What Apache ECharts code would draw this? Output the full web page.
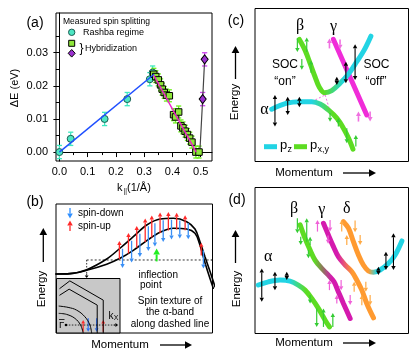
<!DOCTYPE html>
<html>
<head>
<meta charset="utf-8">
<script src="https://cdn.jsdelivr.net/npm/echarts@6/dist/echarts.min.js"></script>
<style>
    html, body { margin: 0; padding: 0; background: #fff; }
    #fig { width: 416px; height: 363px; }
</style>
</head>
<body>
<div id="fig"></div>
<script>
    // ---- (a) measured spin splitting, k in 1/Å, dE in eV ----
    var rashbaK   = [0.0, 0.04, 0.16, 0.24, 0.32, 0.33];
    var rashbaE   = [0.000, 0.004, 0.010, 0.016, 0.022, 0.024];
    var rashbaErr = [0.002, 0.002, 0.002, 0.002, 0.002, 0.002];

    var hybK   = [0.334, 0.341, 0.350, 0.358, 0.364, 0.371, 0.379, 0.389, 0.404, 0.411, 0.422, 0.430, 0.437, 0.445, 0.453, 0.461, 0.469, 0.483, 0.494];
    var hybE   = [0.0235, 0.0228, 0.0218, 0.0203, 0.0190, 0.0180, 0.0172, 0.0170, 0.0113, 0.0106, 0.0121, 0.0079, 0.0073, 0.0063, 0.0053, 0.0042, 0.0030, 0.0000, 0.0000];
    var hybErr = [0.0018, 0.0018, 0.0018, 0.0018, 0.0018, 0.0018, 0.0018, 0.0018, 0.0018, 0.0018, 0.0018, 0.0018, 0.0018, 0.0018, 0.0018, 0.0018, 0.0018, 0.0018, 0.0018];

    var diaK   = [0.507, 0.514];
    var diaE   = [0.016, 0.028];
    var diaErr = [0.002, 0.002];

    var fitRashba = [[0.0, 0.0], [0.335, 0.0235]];
    var fitHyb    = [[0.334, 0.0232], [0.484, 0.0]];
    var jumpLine  = [[0.497, 0.0], [0.507, 0.016], [0.514, 0.028]];

    var xTicks = [0, 0.1, 0.2, 0.3, 0.4, 0.5];
    var xMinor = [0.05, 0.15, 0.25, 0.35, 0.45];
    var yTicks = [0, 0.01, 0.02, 0.03];
    var yMinor = [0.005, 0.015, 0.025, 0.035];

    // ---- (b) alpha band sketch, momentum / energy in 0..100 ----
    var bandUpper = [[0,45.7],[8.9,46],[19.6,49.1],[32.4,57.4],[40.9,65.7],[49.4,74.7],[58,83.7],[66.5,88.4],[75,88.9],[83.5,86.3],[88.8,80.6],[92,70.8],[95.2,59.1],[98.8,46.3],[101.6,35.9]];
    var bandLower = [[0,45.7],[8.9,46],[19.6,48.6],[32.4,53.3],[40.9,57.9],[49.4,64.1],[58,71.6],[66.5,78.1],[75,81.2],[83.5,80.6],[88.8,77.3],[91.6,69.5],[94.1,59.1],[97.3,46.3],[100.5,34.7]];
    var cutLine   = [[19.6,56.6],[100,56.6]];
    var cutDrop   = [[19.6,56.6],[19.6,45.5]];
    var bSpinUp   = [[40.5,57.3,71.3],[46.3,61.6,77.5],[51.6,66,83],[57,70.6,88.7],[61.2,74,91],[66.5,77.5,93.5],[71.8,79.5,93.8],[77.1,80.2,93.3],[82.5,79.6,91.3],[92.8,60,70]];
    var bSpinDown = [[42.5,65.3,50.3],[48.3,71.5,54.6],[53.6,77,59],[59,82.7,63.6],[63.2,85,67],[68.5,87.5,70.5],[73.8,87.8,72.5],[79.1,87.3,73.2],[84.5,85.3,72.6],[94.2,64,50]];
    var bDropTip  = [[19.6,46,42.6]];
    var bInflect  = [[64.3,55.5,65.5]];

    // inset: constant energy contours around Gamma
    var insetOuter    = [[5.2,81.7],[21,95.6],[73.6,60.3],[73.6,0]];
    var insetInner    = [[5.2,69.5],[19.9,80.4],[64.1,51.2],[64.1,0]];
    var insetArcOuter = [[4.1,49.4],[18.3,47],[31.6,42],[44.7,29.8],[52.6,14.6],[55.3,0]];
    var insetArcInner = [[4.1,36],[15.8,34.2],[28.9,26.9],[37.9,14.6],[42,0]];
    var insetKx       = [[14.7,14.6],[92,14.6]];
    var insetKxTip    = [[90,97,14.6]];
    var insetUp       = [[42,2.4,23.8],[73.6,2.4,23.8]];
    var insetDown     = [[49.9,26.9,2.4],[63.2,26.9,2.4]];

    // ---- (c) SOC on / off ----
    var cAlpha = [[10.9,34.2],[20.7,38.1],[29.4,39.1],[37,39.1],[42.4,37.6],[47.8,33.7],[53.3,28.3],[57.6,21.8],[60.9,15.3],[63.8,8.1]];
    var cBeta  = [[28.9,79.8],[32.6,72.8],[35.9,64.1],[39.1,55.4],[41.9,48.5],[45.2,45],[50,46.3],[55.4,51.1],[60.9,57.2],[66.3,65.2],[71.1,72.8],[75.5,81.9]];
    var cGamma = [[51.1,79.8],[72.8,30.4]];
    var cDashA = [[37,39.1],[45.7,43.5]];
    var cDashB = [[45.7,43.5],[48.3,34.8]];
    var cBlack = [[13,22.8,43.5],[21.3,30.4,42.4],[28.9,35.5,42.4],[53.3,50,55.4],[59.2,51.1,65.2],[65.2,53.3,76.7]];
    var cGreen = [[27.6,80.5,71.5],[33.7,71.5,81],[30.5,67,60],[36.5,58,66],[48.9,31.7,25.9],[54.3,22.8,28.5],[59.8,21.8,12],[65.7,9.8,17.4]];
    var cPink  = [[48.5,73.9,80.4],[55.4,79.8,73.3],[67.4,26.1,32.6],[75,32.6,26.1]];

    // ---- (d) four bands ----
    var dAlpha = [[2.2,33.2],[8.7,35.4],[16.3,36.6],[22.8,35.9],[28.2,33.2],[32.6,29.7],[37,24],[41.3,17.2],[45.7,9.1],[48.5,4.5]];
    var dBeta  = [[29.4,74.4],[32.6,65.2],[35.9,57.2],[39.1,50.3],[43.5,44.6],[47.8,40],[51.5,35.4],[54.3,28.6],[57.6,20.6],[62,10.3]];
    var dGamma = [[44.6,75.5],[47.8,67.5],[51.1,59.5],[54.3,52.6],[58.7,46.9],[63.1,42.3],[66.3,36.6],[69.6,29.7],[72.8,20.6],[77.2,10.7]];
    var dDelta = [[57.6,76.6],[60.9,72.1],[64.1,62.9],[67.4,53.8],[70.6,46.9],[73.9,42.8],[77.2,41.9],[81.5,43.5],[87,48.1],[91.3,53.8],[95.7,63.4]];
    var dBlack = [[4.4,21.7,44.6],[13,29.7,42.3],[20.7,36.6,42.3],[80.4,40,45.7],[85.3,43.5,56],[90.2,43.5,68.7]];
    var dGreen = [[27.6,79,68.7],[33.7,62.9,79],[29.8,66.3,60.6],[35.9,60.6,66.3],[34.8,57.2,51.5],[35.9,26.3,20.6],[40.2,17.2,4.5],[44.6,4.5,17.2],[50.7,4.5,14]];
    var dPink  = [[40.7,69.8,77.8],[48.9,77.8,69.8],[47.6,67.1,61.4],[48.5,29.7,36.6],[56.1,36.6,29.7],[53.3,20.6,26.3],[62,26.3,19.5]];
    var dOrange = [[56.5,69.8,77.8],[65.2,77.4,69.4],[59.8,60.6,67.5],[68.5,67.5,60.6],[64.6,28.6,35.4],[72.2,35.4,28.6],[69.6,19.4,26.3],[75,26.3,19.4]];

    var SANS = '"Liberation Sans", Arial, sans-serif';
    var SERIF = '"Liberation Serif", "DejaVu Serif", serif';
    var cyan = '#22d4e4', green = '#5ddc22', magenta = '#f02cd8', deepMag = '#d41aae', orange = '#ff9a30';

    function zip(a, b) {
        return a.map(function (v, i) { return [v, b[i]]; });
    }
    function zip3(a, b, c) {
        return a.map(function (v, i) { return [v, b[i], c[i]]; });
    }

    // error bar with caps
    function errSeries(data, color) {
        return {
            type: 'custom', xAxisIndex: 0, yAxisIndex: 0, z: 2, silent: true,
            data: data,
            renderItem: function (params, api) {
                var x = api.value(0), y = api.value(1), e = api.value(2);
                var t = api.coord([x, y + e]), b = api.coord([x, y - e]), c = 2.6;
                var st = { stroke: color, lineWidth: 1.3 };
                return {
                    type: 'group', children: [
                        { type: 'line', shape: { x1: t[0], y1: t[1], x2: b[0], y2: b[1] }, style: st },
                        { type: 'line', shape: { x1: t[0] - c, y1: t[1], x2: t[0] + c, y2: t[1] }, style: st },
                        { type: 'line', shape: { x1: b[0] - c, y1: b[1], x2: b[0] + c, y2: b[1] }, style: st }
                    ]
                };
            }
        };
    }

    // arrow shape between two pixel points
    function arrowShape(a, b, color, lw, head, both) {
        var dx = b[0] - a[0], dy = b[1] - a[1], L = Math.sqrt(dx * dx + dy * dy) || 1;
        var ux = dx / L, uy = dy / L;
        var hl = Math.min(head, L * 0.6), hw = head * 0.55;
        var bx = b[0] - ux * hl, by = b[1] - uy * hl;
        var ax = both ? a[0] + ux * hl : a[0], ay = both ? a[1] + uy * hl : a[1];
        var kids = [
            { type: 'line', shape: { x1: ax, y1: ay, x2: bx, y2: by }, style: { stroke: color, lineWidth: lw } },
            { type: 'polygon', shape: { points: [[b[0], b[1]], [bx - uy * hw, by + ux * hw], [bx + uy * hw, by - ux * hw]] }, style: { fill: color } }
        ];
        if (both) {
            kids.push({ type: 'polygon', shape: { points: [[a[0], a[1]], [ax - uy * hw, ay + ux * hw], [ax + uy * hw, ay - ux * hw]] }, style: { fill: color } });
        }
        return { type: 'group', children: kids };
    }

    // vertical spin arrows [x, from, to]; both = heads at both ends
    function arrowSeries(data, axis, color, lw, both, head) {
        return {
            type: 'custom', xAxisIndex: axis, yAxisIndex: axis, z: 5, silent: true, clip: false,
            data: data,
            renderItem: function (params, api) {
                var x = api.value(0);
                return arrowShape(api.coord([x, api.value(1)]), api.coord([x, api.value(2)]), color, lw, head || 4, both);
            }
        };
    }

    // horizontal arrows [from, to, y]
    function hArrowSeries(data, axis, color, lw, head) {
        return {
            type: 'custom', xAxisIndex: axis, yAxisIndex: axis, z: 6, silent: true, clip: false,
            data: data,
            encode: { x: [0, 1], y: 2 },
            renderItem: function (params, api) {
                var y = api.value(2);
                return arrowShape(api.coord([api.value(0), y]), api.coord([api.value(1), y]), color, lw, head, false);
            }
        };
    }

    function band(data, axis, color, width, extra) {
        var s = {
            type: 'line', xAxisIndex: axis, yAxisIndex: axis, data: data, symbol: 'none', silent: true,
            smooth: 0.35, z: 3, lineStyle: { color: color, width: width, cap: 'round' }
        };
        if (extra) { for (var k in extra) s[k] = extra[k]; }
        return s;
    }

    function grad(stops) {
        return new echarts.graphic.LinearGradient(0, 0, 1, 0, stops.map(function (s) { return { offset: s[0], color: s[1] }; }));
    }

    function hiddenAxis(grid) {
        return { type: 'value', gridIndex: grid, min: 0, max: 100, show: false };
    }

    // pixel arrows / texts for the decorations
    function gArrow(x1, y1, x2, y2, color, lw, head) {
        var g = arrowShape([x1, y1], [x2, y2], color, lw, head, false);
        g.z = 10;
        return g;
    }
    function gText(t, x, y, size, opt) {
        opt = opt || {};
        return {
            type: 'text', x: x, y: y, rotation: opt.rot || 0, z: 10,
            style: {
                text: t, font: (opt.style || '') + ' ' + size + 'px ' + (opt.family || SANS), fill: opt.color || '#000',
                align: opt.align || 'center', textAlign: opt.align || 'center',
                verticalAlign: 'middle', textVerticalAlign: 'middle'
            }
        };
    }

    var graphics = [];
    // panel letters
    graphics.push(gText('(a)', 35, 23, 14), gText('(b)', 35, 202, 14), gText('(c)', 236, 21, 14), gText('(d)', 237, 200, 14));

    // (a) axis names + legend
    graphics.push(gText('\u0394E (eV)', 15, 88, 11, { rot: Math.PI / 2 }));
    graphics.push(gText('k', 117, 188, 11, { align: 'left' }), gText('||', 123.5, 191, 6.5, { align: 'left' }), gText('(1/\u00C5)', 127, 188, 11, { align: 'left' }));
    graphics.push(gText('Measured spin splitting', 63, 22, 8.5, { align: 'left' }));
    graphics.push({ type: 'circle', shape: { cx: 71.7, cy: 32.3, r: 3.2 }, style: { fill: '#4de6c3', stroke: '#1d5c52', lineWidth: 1 }, z: 10 });
    graphics.push(gText('Rashba regime', 83, 32.3, 9, { align: 'left' }));
    graphics.push({ type: 'rect', shape: { x: 68.7, y: 40.3, width: 6, height: 6 }, style: { fill: '#8ee63a', stroke: '#000', lineWidth: 1 }, z: 10 });
    graphics.push({ type: 'polygon', shape: { points: [[71.7, 49.5], [75.2, 53.3], [71.7, 57.1], [68.2, 53.3]] }, style: { fill: '#9b30d0', stroke: '#000', lineWidth: 1 }, z: 10 });
    graphics.push(gText('}', 79.5, 48.5, 12, { align: 'left' }), gText('Hybridization', 85, 48.3, 9, { align: 'left' }));

    // (b) decorations
    graphics.push(gText('Energy', 42.3, 289, 11.5, { rot: Math.PI / 2 }));
    graphics.push(gArrow(43.3, 262, 43.3, 228, '#000', 1.3, 7));
    graphics.push(gText('Momentum', 120, 345, 11.5));
    graphics.push(gArrow(160, 345, 192, 345, '#000', 1.3, 7));
    graphics.push(gArrow(70, 208, 70, 218.5, '#2f8fff', 1.3, 5));
    graphics.push(gArrow(70, 231, 70, 220.5, '#ff2a2a', 1.3, 5));
    graphics.push(gText('spin-down', 78, 213, 10, { align: 'left' }), gText('spin-up', 78, 226.5, 10, { align: 'left' }));
    graphics.push(gText('inflection', 138.5, 275, 10, { align: 'left' }), gText('point', 140, 285.5, 10, { align: 'left' }));
    graphics.push(gText('Spin texture of', 170, 301, 10), gText('the \u03B1-band', 170, 312.5, 10), gText('along dashed line', 170, 324, 10));
    graphics.push(gText('\u0393', 61.7, 325.5, 9.5), { type: 'line', shape: { x1: 59, y1: 319.5, x2: 64.5, y2: 319.5 }, style: { stroke: '#000', lineWidth: 0.8 }, z: 10 });
    graphics.push({ type: 'circle', shape: { cx: 66, cy: 325, r: 1.3 }, style: { fill: '#000' }, z: 10 });
    graphics.push(gText('k', 108.5, 316.5, 10, { align: 'left' }), gText('X', 113.8, 318.5, 7, { align: 'left' }));

    // (c) decorations
    graphics.push(gText('Energy', 235, 102, 11.5, { rot: Math.PI / 2 }));
    graphics.push(gArrow(235.5, 79, 235.5, 46, '#000', 1.3, 7));
    graphics.push(gText('Momentum', 304, 173, 11.5));
    graphics.push(gArrow(343, 173, 376, 173, '#000', 1.3, 7));
    graphics.push(gText('\u03B2', 300, 26, 16, { family: SERIF }), gText('\u03B3', 333.5, 27, 16, { family: SERIF }), gText('\u03B1', 264.5, 110, 16, { family: SERIF }));
    graphics.push(gText('SOC', 285, 65, 12), gText('\u201Con\u201D', 285, 81.5, 12), gText('SOC', 376.5, 65, 12), gText('\u201Coff\u201D', 376, 81.5, 12));
    graphics.push({ type: 'line', shape: { x1: 264, y1: 146.7, x2: 277, y2: 146.7 }, style: { stroke: cyan, lineWidth: 5 }, z: 10 });
    graphics.push(gText('p', 280, 145.5, 13, { align: 'left' }), gText('z', 287.5, 150, 9, { align: 'left' }));
    graphics.push({ type: 'line', shape: { x1: 294, y1: 146.7, x2: 307, y2: 146.7 }, style: { stroke: green, lineWidth: 5 }, z: 10 });
    graphics.push(gText('p', 310, 145.5, 13, { align: 'left' }), gText('x,y', 317.5, 150, 9, { align: 'left' }));

    // (d) decorations
    graphics.push(gText('Energy', 236.5, 289, 11.5, { rot: Math.PI / 2 }));
    graphics.push(gArrow(235.5, 263, 235.5, 230, '#000', 1.3, 7));
    graphics.push(gText('Momentum', 304, 343, 11.5));
    graphics.push(gArrow(343, 343, 376, 343, '#000', 1.3, 7));
    graphics.push(gText('\u03B2', 294, 208.5, 16, { family: SERIF }), gText('\u03B3', 321.7, 209.5, 16, { family: SERIF }), gText('\u03B4', 346.7, 208.5, 16, { family: SERIF }), gText('\u03B1', 268.3, 256.5, 16, { family: SERIF }));

    var frame = { show: true, borderColor: '#000', borderWidth: 1, backgroundColor: 'transparent' };
    function gridOf(l, t, w, h, extra) {
        var g = { left: l, top: t, width: w, height: h };
        for (var k in frame) g[k] = frame[k];
        if (extra) { for (var j in extra) g[j] = extra[j]; }
        return g;
    }

    var option = {
        animation: false,
        textStyle: { fontFamily: SANS },
        grid: [
            gridOf(56, 13, 156, 148),
            gridOf(56, 204, 156.5, 129),
            gridOf(56.5, 278.5, 63.5, 54.5, { backgroundColor: '#c8c8c8', z: 1 }),
            gridOf(255, 8.5, 153.5, 153),
            gridOf(255, 187.5, 153.5, 146)
        ],
        xAxis: [
            {
                type: 'value', gridIndex: 0, min: -0.012, max: 0.54, position: 'bottom',
                axisLine: { show: true, lineStyle: { color: '#000', width: 1 } },
                axisTick: { show: true, customValues: xTicks, length: 5, lineStyle: { color: '#000' } },
                axisLabel: { customValues: xTicks, color: '#000', fontSize: 11, margin: 5, formatter: function (v) { return v.toFixed(1); } },
                splitLine: { show: false }
            },
            {
                type: 'value', gridIndex: 0, min: -0.012, max: 0.54, position: 'bottom',
                axisLine: { show: false },
                axisTick: { show: true, customValues: xMinor, length: 3, lineStyle: { color: '#000' } },
                axisLabel: { show: false }, splitLine: { show: false }
            },
            hiddenAxis(1), hiddenAxis(2), hiddenAxis(3), hiddenAxis(4)
        ],
        yAxis: [
            {
                type: 'value', gridIndex: 0, min: -0.0027, max: 0.042, position: 'left',
                axisLine: { show: true, lineStyle: { color: '#000', width: 1 } },
                axisTick: { show: true, customValues: yTicks, length: 6, lineStyle: { color: '#000' } },
                axisLabel: { customValues: yTicks, color: '#000', fontSize: 11, margin: 8, formatter: function (v) { return v.toFixed(2); } },
                splitLine: { show: false }
            },
            {
                type: 'value', gridIndex: 0, min: -0.0027, max: 0.042, position: 'left',
                axisLine: { show: false },
                axisTick: { show: true, customValues: yMinor, length: 3.5, lineStyle: { color: '#000' } },
                axisLabel: { show: false }, splitLine: { show: false }
            },
            hiddenAxis(1), hiddenAxis(2), hiddenAxis(3), hiddenAxis(4)
        ],
        graphic: { elements: graphics },
        series: [
            // (a)
            errSeries(zip3(rashbaK, rashbaE, rashbaErr), '#3ee8c0'),
            errSeries(zip3(hybK, hybE, hybErr), '#6cf01a'),
            errSeries(zip3(diaK, diaE, diaErr), '#cc44ee'),
            { type: 'line', xAxisIndex: 0, yAxisIndex: 0, data: jumpLine, symbol: 'none', lineStyle: { color: '#444', width: 1.2 }, z: 3, silent: true },
            { type: 'scatter', xAxisIndex: 0, yAxisIndex: 0, data: zip(rashbaK, rashbaE), symbol: 'circle', symbolSize: 7, itemStyle: { color: '#4de6c3', borderColor: '#1d5c52', borderWidth: 1, opacity: 1 }, z: 4, silent: true },
            { type: 'scatter', xAxisIndex: 0, yAxisIndex: 0, data: zip(hybK, hybE), symbol: 'rect', symbolSize: 6.5, itemStyle: { color: '#8ee63a', borderColor: '#000', borderWidth: 1, opacity: 1 }, z: 4, silent: true },
            { type: 'scatter', xAxisIndex: 0, yAxisIndex: 0, data: zip(diaK, diaE), symbol: 'diamond', symbolSize: [7, 9], itemStyle: { color: '#9b30d0', borderColor: '#000', borderWidth: 1, opacity: 1 }, z: 4, silent: true },
            { type: 'line', xAxisIndex: 0, yAxisIndex: 0, data: fitRashba, symbol: 'none', lineStyle: { color: '#1f4fff', width: 1.5 }, z: 5, silent: true },
            { type: 'line', xAxisIndex: 0, yAxisIndex: 0, data: fitHyb, symbol: 'none', lineStyle: { color: '#ee22cc', width: 1.5 }, z: 5, silent: true },

            // (b)
            band(bandUpper, 2, '#000', 1.6),
            band(bandLower, 2, '#000', 1.6),
            band(cutLine, 2, '#000', 0.8, { smooth: false, lineStyle: { color: '#000', width: 0.8, type: [2, 2] } }),
            band(cutDrop, 2, '#000', 0.8, { smooth: false, lineStyle: { color: '#000', width: 0.8, type: [1.5, 1.5] } }),
            arrowSeries(bDropTip, 2, '#000', 0.8, false, 3.5),
            arrowSeries(bSpinDown, 2, '#3a8ff5', 1.3),
            arrowSeries(bSpinUp, 2, '#ff2a2a', 1.3),
            arrowSeries(bInflect, 2, '#22ee22', 2, false, 6),

            // (b) inset
            band(insetOuter, 3, '#000', 1, { smooth: false, z: 6 }),
            band(insetInner, 3, '#000', 1, { smooth: false, z: 6 }),
            band(insetArcOuter, 3, '#000', 1, { smooth: 0.4, z: 6 }),
            band(insetArcInner, 3, '#000', 1, { smooth: 0.4, z: 6 }),
            band(insetKx, 3, '#000', 0.8, { smooth: false, z: 6, lineStyle: { color: '#000', width: 0.8, type: [1.5, 1.5] } }),
            hArrowSeries(insetKxTip, 3, '#000', 0.8, 3.5),
            arrowSeries(insetUp, 3, '#ff2a2a', 1.2, false, 3.5),
            arrowSeries(insetDown, 3, '#2f6ff5', 1.2, false, 3.5),

            // (c)
            band(cDashA, 4, magenta, 1, { smooth: false, lineStyle: { color: '#f070e0', width: 1, type: [2, 2] } }),
            band(cDashB, 4, magenta, 1, { smooth: false, lineStyle: { color: '#f070e0', width: 1, type: [2, 2] } }),
            band(cGamma, 4, magenta, 5, { smooth: false }),
            band(cAlpha, 4, grad([[0, cyan], [0.49, cyan], [0.74, green], [1, green]]), 5),
            band(cBeta, 4, grad([[0, green], [0.35, green], [0.62, cyan], [1, cyan]]), 5),
            arrowSeries(cBlack, 4, '#000', 1.1, true, 4),
            arrowSeries(cGreen, 4, '#33cc33', 1.2, false, 4),
            arrowSeries(cPink, 4, '#f070e0', 1.6, false, 4.5),

            // (d)
            band(dAlpha, 5, grad([[0, cyan], [0.44, cyan], [0.66, green], [1, green]]), 5),
            band(dBeta, 5, grad([[0, green], [0.3, green], [0.45, '#8c7a5a'], [0.62, deepMag], [1, deepMag]]), 5),
            band(dGamma, 5, grad([[0, deepMag], [0.3, deepMag], [0.57, orange], [1, orange]]), 5),
            band(dDelta, 5, grad([[0, orange], [0.43, orange], [0.56, cyan], [1, cyan]]), 5),
            arrowSeries(dBlack, 5, '#000', 1.1, true, 4),
            arrowSeries(dGreen, 5, '#33cc33', 1.2, false, 4),
            arrowSeries(dPink, 5, '#f060d8', 1.2, false, 4),
            arrowSeries(dOrange, 5, '#ffaa44', 1.2, false, 4)
        ]
    };

    var myChart = echarts.init(document.getElementById('fig'));
    myChart.setOption(option);
</script>
</body>
</html>
